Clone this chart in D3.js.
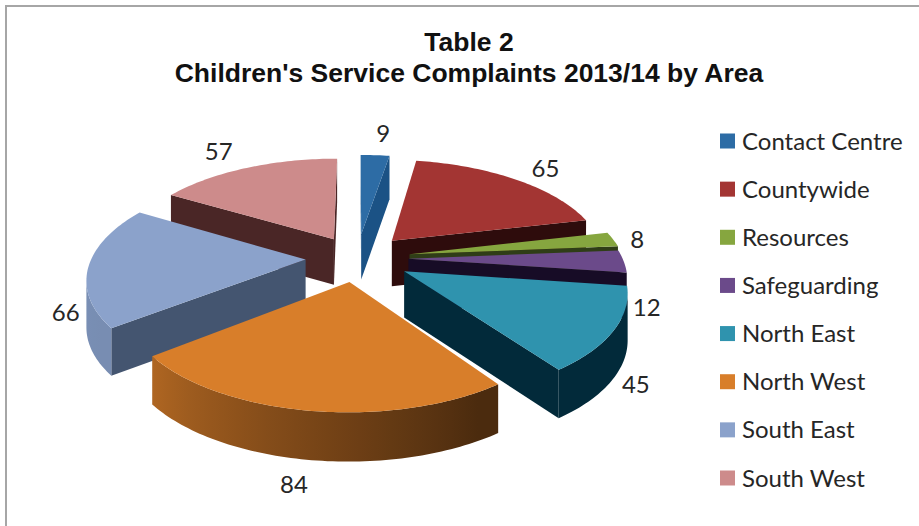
<!DOCTYPE html>
<html>
<head>
<meta charset="utf-8">
<script src="https://cdn.jsdelivr.net/npm/d3@7"></script>
<style>
  html, body { margin: 0; padding: 0; background: #fff; }
  svg { display: block; }
</style>
</head>
<body>
<svg id="chart" width="919" height="526"></svg>
<script>
// Complaint counts per area
const areas = ["Contact Centre", "Countywide", "Resources", "Safeguarding",
               "North East", "North West", "South East", "South West"];
const complaints = [9, 65, 8, 12, 45, 84, 66, 57];

const titleLines = ["Table 2", "Children's Service Complaints 2013/14 by Area"];

const topColors  = ["#2d6ca5", "#a33533", "#86a63f", "#6b4a8a", "#2f93ae", "#d87e2a", "#8ba2cb", "#cd8b8b"];
const wallColors = ["#1b5285", "#2e0c0c", "#2f3d17", "#170c26", "#022a3a", "#45270d", "#445570", "#4a2626"];

// Distance each slice is pulled out from the pie's centre
const explode = [0.25, 0.245, 0.25, 0.24, 0.252, 0.235, 0.24, 0.225];

// Data label nudges from the slice's outer rim
const labelNudge = [[8, -13], [30, -2], [24, 9], [23, 55], [22, 63], [-15, 82], [-23, 55], [-28, -8]];

// Perspective model of the pie
const centre = { x: 357, y: 258 };
const radiusX = 214, radiusY = 99.6;
const perspective = 0.166;
const thickness = 46;

// How far the outer wall moves from its dark shade toward the face colour with rim angle
const rimLight = d3.scaleLinear().domain([0, 145, 232, 300, 360]).range([0, 0, 0.72, 0.8, 0]);

const svg = d3.select("#chart");
const defs = svg.append("defs");

svg.append("rect").attr("x", 6).attr("y", 6).attr("width", 930).attr("height", 540)
   .attr("fill", "#fff").attr("stroke", "#a6a6a6").attr("stroke-width", 2);

const title = svg.append("text")
  .attr("text-anchor", "middle")
  .attr("font-family", "Liberation Sans")
  .attr("font-weight", "bold")
  .attr("font-size", 26.5)
  .attr("fill", "#111");
titleLines.forEach((line, i) => {
  title.append("tspan").attr("x", 469).attr("y", 51 + i * 31).text(line);
});

function project(X, Z, drop) {
  const d = 1 + perspective * Z;
  return [centre.x + radiusX * X / d,
          centre.y - radiusY * Z / d + (drop ? thickness / Math.pow(d, 0.3) : 0)];
}

const slices = d3.pie().sort(null).startAngle(0).endAngle(2 * Math.PI)(complaints)
  .map((s, i) => {
    const mid = (s.startAngle + s.endAngle) / 2;
    return { ...s, i, ax: explode[i] * Math.sin(mid), az: explode[i] * Math.cos(mid) };
  });

const pathOf = pts => "M" + pts.map(p => p.join(",")).join("L") + "Z";
const drawOrder = slices.slice().sort((a, b) => d3.descending(a.az, b.az));

const pie = svg.append("g");
drawOrder.forEach(s => {
  const g = pie.append("g");
  const steps = Math.max(2, Math.ceil((s.endAngle - s.startAngle) / 0.02));
  const angles = d3.range(steps + 1).map(k => s.startAngle + (s.endAngle - s.startAngle) * k / steps);
  const rimPoints = angles.map(t => ({ X: s.ax + Math.sin(t), Z: s.az + Math.cos(t), t }));
  const apex = { X: s.ax, Z: s.az };
  const outline = [apex].concat(rimPoints);

  // Flat radial faces that turn toward the viewer
  [[apex, rimPoints[0]], [rimPoints[steps], apex]].forEach(([a, b]) => {
    const pa = project(a.X, a.Z, false), pb = project(b.X, b.Z, false);
    if (pb[0] >= pa[0]) return;
    g.append("path")
     .attr("d", pathOf([pa, pb, project(b.X, b.Z, true), project(a.X, a.Z, true)]))
     .attr("fill", wallColors[s.i]);
  });

  // Curved outer wall, shaded with a gradient running along the rim
  const visible = rimPoints.filter((p, k) => {
    const next = rimPoints[k + 1] || p, prev = rimPoints[k - 1] || p;
    return project(next.X, next.Z)[0] < project(p.X, p.Z)[0] ||
           project(p.X, p.Z)[0] < project(prev.X, prev.Z)[0];
  });
  if (visible.length > 1) {
    const top = visible.map(p => project(p.X, p.Z, false));
    const bottom = visible.map(p => project(p.X, p.Z, true)).reverse();
    const xs = top.map(p => p[0]);
    const x0 = d3.min(xs), x1 = d3.max(xs);
    const shade = d3.interpolateRgb(wallColors[s.i], topColors[s.i]);
    const grad = defs.append("linearGradient").attr("id", "rim" + s.i)
      .attr("gradientUnits", "userSpaceOnUse")
      .attr("x1", x0).attr("x2", x1).attr("y1", 0).attr("y2", 0);
    const stops = visible.map((p, k) => ({
      offset: (xs[k] - x0) / (x1 - x0 || 1),
      light: rimLight(p.t * 180 / Math.PI)
    })).sort((a, b) => a.offset - b.offset).filter((d, k) => k % 6 === 0);
    stops.forEach(d => {
      grad.append("stop").attr("offset", d.offset).attr("stop-color", shade(d.light));
    });
    g.append("path").attr("d", pathOf(top.concat(bottom))).attr("fill", `url(#rim${s.i})`);
  }

  g.append("path").attr("d", pathOf(outline.map(p => project(p.X, p.Z, false))))
   .attr("fill", topColors[s.i]);
});

// Value labels around the pie
const labels = svg.append("g")
  .attr("font-family", "Lato").attr("font-size", 24).attr("fill", "#262626")
  .attr("text-anchor", "middle");
slices.forEach(s => {
  const mid = (s.startAngle + s.endAngle) / 2;
  const p = project(s.ax + Math.sin(mid), s.az + Math.cos(mid), false);
  labels.append("text")
    .attr("x", p[0] + labelNudge[s.i][0])
    .attr("y", p[1] + labelNudge[s.i][1])
    .text(s.value);
});

// Legend column
const legendY = d3.scalePoint().domain(areas).range([141, 478]);
const legend = svg.append("g").selectAll("g").data(areas).join("g")
  .attr("transform", d => `translate(720,${legendY(d)})`);
legend.append("rect").attr("y", -7.5).attr("width", 15).attr("height", 15)
  .attr("fill", (d, i) => topColors[i]);
legend.append("text").attr("x", 22).attr("y", 8.5)
  .attr("font-family", "Lato").attr("font-size", 24).attr("fill", "#262626")
  .text(d => d);
</script>
</body>
</html>
